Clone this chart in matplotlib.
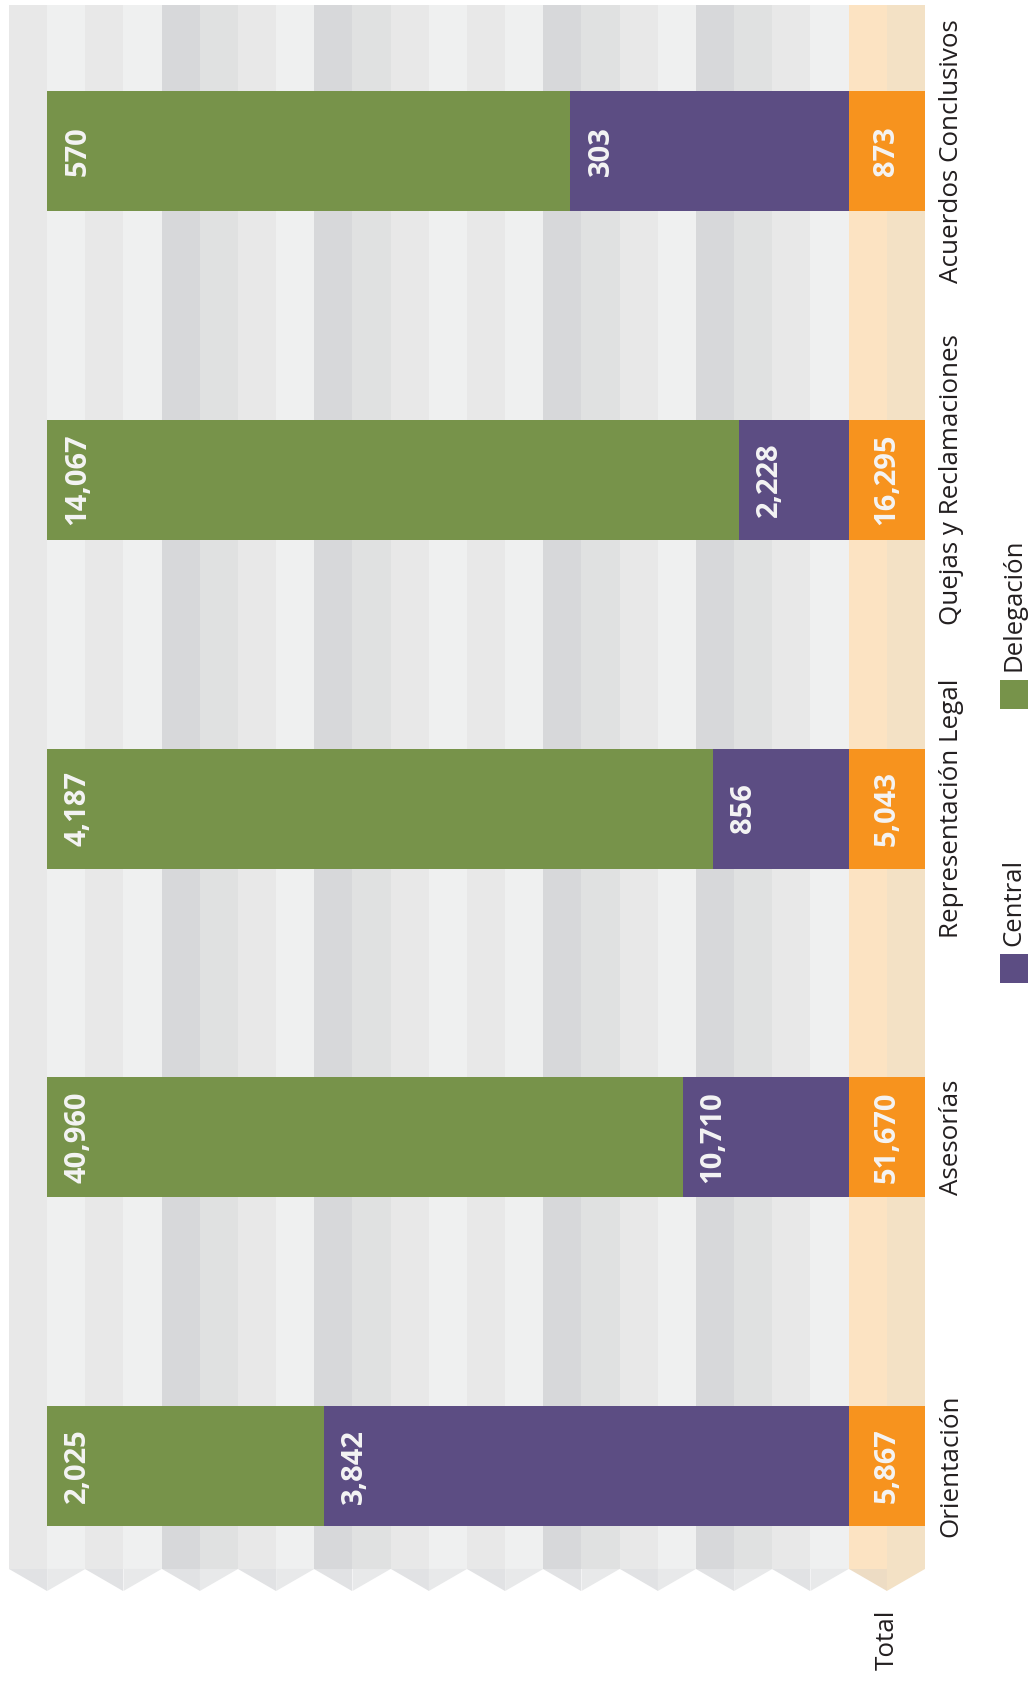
import matplotlib.pyplot as plt
from matplotlib.patches import Rectangle, Polygon
from matplotlib.transforms import blended_transform_factory

# data (bottom to top in the picture)
categorias = ["Orientación", "Asesorías", "Representación Legal",
              "Quejas y Reclamaciones", "Acuerdos Conclusivos"]
delegacion = [2025, 40960, 4187, 14067, 570]
central = [3842, 10710, 856, 2228, 303]
total = [5867, 51670, 5043, 16295, 873]

VERDE = "#77934a"
MORADO = "#5c4d83"
NARANJA = "#f7931e"
TEXTO = "#231f20"
FUENTE = "Open Sans"

# background stripes, one colour per column, left to right
franjas = ["#e8e8e8", "#eff0f0", "#e8e8e8", "#eff0f0", "#d7d8da", "#e0e1e1",
           "#e8e8e8", "#eff0f0", "#d7d8da", "#e0e1e1", "#e8e8e8", "#eff0f0",
           "#e8e8e8", "#eff0f0", "#d7d8da", "#e0e1e1", "#e8e8e8", "#eff0f0",
           "#d7d8da", "#e0e1e1", "#e8e8e8", "#eff0f0", "#fce3c2", "#f3e1c5"]

W, H = 1029, 1684
fig = plt.figure(figsize=(W / 100, H / 100), dpi=100)

ax = fig.add_axes([9 / W, (H - 1591) / H, 916 / W, (1591 - 5) / H])
y_pico, y_base, y_tope = -0.38, -0.313, 4.444
ax.set_xlim(0, 24)
ax.set_ylim(y_pico, y_tope)
ax.axis("off")

# striped panel
for i, c in enumerate(franjas):
    ax.add_patch(Rectangle((i, y_base), 1, y_tope - y_base, color=c, lw=0))

# zigzag teeth below the panel
for k in range(12):
    if k == 11:
        izq, der = "#eddcc4", "#f3e1c5"
    else:
        izq, der = "#e1e2e4", "#e8e9ea"
    ax.add_patch(Polygon([(2 * k, y_base), (2 * k + 1, y_base), (2 * k + 1, y_pico)],
                         closed=True, color=izq, lw=0))
    ax.add_patch(Polygon([(2 * k + 1, y_base), (2 * k + 2, y_base), (2 * k + 1, y_pico)],
                         closed=True, color=der, lw=0))

# 100% stacked bars spanning 21 columns, total in the last two
y = list(range(len(categorias)))
alto = 0.365
ancho_d = [d * 21 / t for d, t in zip(delegacion, total)]
ancho_c = [c * 21 / t for c, t in zip(central, total)]
inicio_c = [1 + a for a in ancho_d]

ax.barh(y, ancho_d, left=1, height=alto, color=VERDE, lw=0)
ax.barh(y, ancho_c, left=inicio_c, height=alto, color=MORADO, lw=0)
ax.barh(y, [2] * len(y), left=22, height=alto, color=NARANJA, lw=0)

estilo = dict(rotation=90, ha="center", va="center", color="#f4f4f4",
              fontsize=21, fontweight="bold", family=FUENTE)
for yi, d, c, t, xc in zip(y, delegacion, central, total, inicio_c):
    ax.annotate(f"{d:,}", xy=(1, yi), xytext=(22, 0), textcoords="offset points", **estilo)
    ax.annotate(f"{c:,}", xy=(xc, yi), xytext=(22, 0), textcoords="offset points", **estilo)
    ax.text(23, yi, f"{t:,}", **estilo)

# category labels on the right
tr = blended_transform_factory(fig.transFigure, ax.transData)
for yi, cat in zip(y, categorias):
    ax.text(951 / W, yi, cat, transform=tr, rotation=90, ha="center", va="center",
            color=TEXTO, fontsize=18.7, family=FUENTE)

# "Total" under the orange column
tr2 = blended_transform_factory(ax.transData, fig.transFigure)
ax.text(23, 1 - 1640 / H, "Total", transform=tr2, rotation=90, ha="center",
        va="center", color=TEXTO, fontsize=18.7, family=FUENTE)

# legend
for color, nombre, y_sq, y_txt in [(MORADO, "Central", 983, 902),
                                    (VERDE, "Delegación", 709, 605)]:
    fig.add_artist(Rectangle((1000 / W, 1 - y_sq / H), 28 / W, 29 / H,
                             transform=fig.transFigure, color=color, lw=0))
    fig.text(1014 / W, 1 - y_txt / H, nombre, rotation=90, ha="center", va="center",
             color=TEXTO, fontsize=18.5, family=FUENTE)

fig.savefig("out.png", dpi=100, facecolor="white")
